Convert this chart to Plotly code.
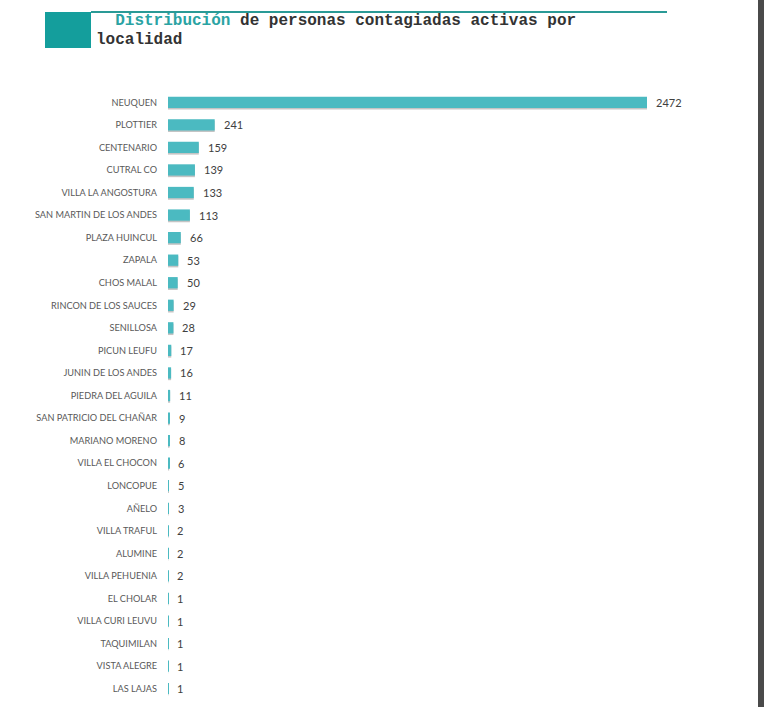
import plotly.graph_objects as go

localidades = ["NEUQUEN", "PLOTTIER", "CENTENARIO", "CUTRAL CO", "VILLA LA ANGOSTURA",
               "SAN MARTIN DE LOS ANDES", "PLAZA HUINCUL", "ZAPALA", "CHOS MALAL",
               "RINCON DE LOS SAUCES", "SENILLOSA", "PICUN LEUFU", "JUNIN DE LOS ANDES",
               "PIEDRA DEL AGUILA", "SAN PATRICIO DEL CHAÑAR", "MARIANO MORENO",
               "VILLA EL CHOCON", "LONCOPUE", "AÑELO", "VILLA TRAFUL", "ALUMINE",
               "VILLA PEHUENIA", "EL CHOLAR", "VILLA CURI LEUVU", "TAQUIMILAN",
               "VISTA ALEGRE", "LAS LAJAS"]
casos = [2472, 241, 159, 139, 133, 113, 66, 53, 50, 29, 28, 17, 16, 11, 9, 8, 6, 5, 3,
         2, 2, 2, 1, 1, 1, 1, 1]

W, H = 769, 707
L, R, T, B = 168, 78, 91, 7
PW, PH = W - L - R, H - T - B

def px(x):
    return (x - L) / PW

def py(y):
    return (H - B - y) / PH

fig = go.Figure()
fig.add_trace(go.Bar(
    y=localidades, x=casos, orientation="h",
    marker=dict(color="rgba(60,60,60,0.3)", line=dict(width=0)),
    width=0.5, offset=-0.25 + 0.07, hoverinfo="skip", showlegend=False,
))
fig.add_trace(go.Bar(
    y=localidades, x=casos, orientation="h",
    marker=dict(color="#4bbac1", line=dict(width=0)),
    width=0.5, offset=-0.25, showlegend=False,
))

shapes = [
    dict(type="rect", xref="paper", yref="paper", x0=px(45), x1=px(91), y0=py(48), y1=py(12),
         fillcolor="#149e9c", line=dict(width=0), layer="above"),
    dict(type="line", xref="paper", yref="paper", x0=px(91), x1=px(667), y0=py(12), y1=py(12),
         line=dict(color="#2a9a96", width=2)),
    dict(type="rect", xref="paper", yref="paper", x0=px(758), x1=px(764), y0=py(707), y1=py(0),
         fillcolor="#4a4a4a", line=dict(width=0), layer="above"),
]

annotations = [
    dict(xref="paper", yref="paper", x=px(94), y=py(21), xanchor="left", yanchor="middle",
         showarrow=False,
         text="<b>  <span style='color:#2aa3a3'>Distribución</span> de personas contagiadas activas por</b>",
         font=dict(family="Liberation Mono, Courier New, monospace", size=16, color="#333333")),
    dict(xref="paper", yref="paper", x=px(94), y=py(40), xanchor="left", yanchor="middle",
         showarrow=False, text="<b>localidad</b>",
         font=dict(family="Liberation Mono, Courier New, monospace", size=16, color="#333333")),
]
for loc, v in zip(localidades, casos):
    annotations.append(dict(
        x=v, y=loc, xref="x", yref="y", xanchor="left", yanchor="middle",
        xshift=7, showarrow=False, text=str(v),
        font=dict(family="Lato, Open Sans, sans-serif", size=11, color="#404040"),
    ))

fig.update_layout(
    width=W, height=H,
    margin=dict(l=L, r=R, t=T, b=B),
    paper_bgcolor="white", plot_bgcolor="white",
    barmode="overlay", bargap=0.5,
    shapes=shapes, annotations=annotations,
    xaxis=dict(range=[0, 2472 * PW / (647 - L)], visible=False, fixedrange=True),
    yaxis=dict(autorange="reversed", showgrid=False, zeroline=False, showline=False,
               ticks="", ticklabelstandoff=10,
               tickfont=dict(family="Lato, Open Sans, sans-serif", size=9.2, color="#595959")),
)

fig.write_html("out.html", config={"displayModeBar": False},
               post_script="document.body.style.margin='0';document.body.style.overflow='hidden';")
